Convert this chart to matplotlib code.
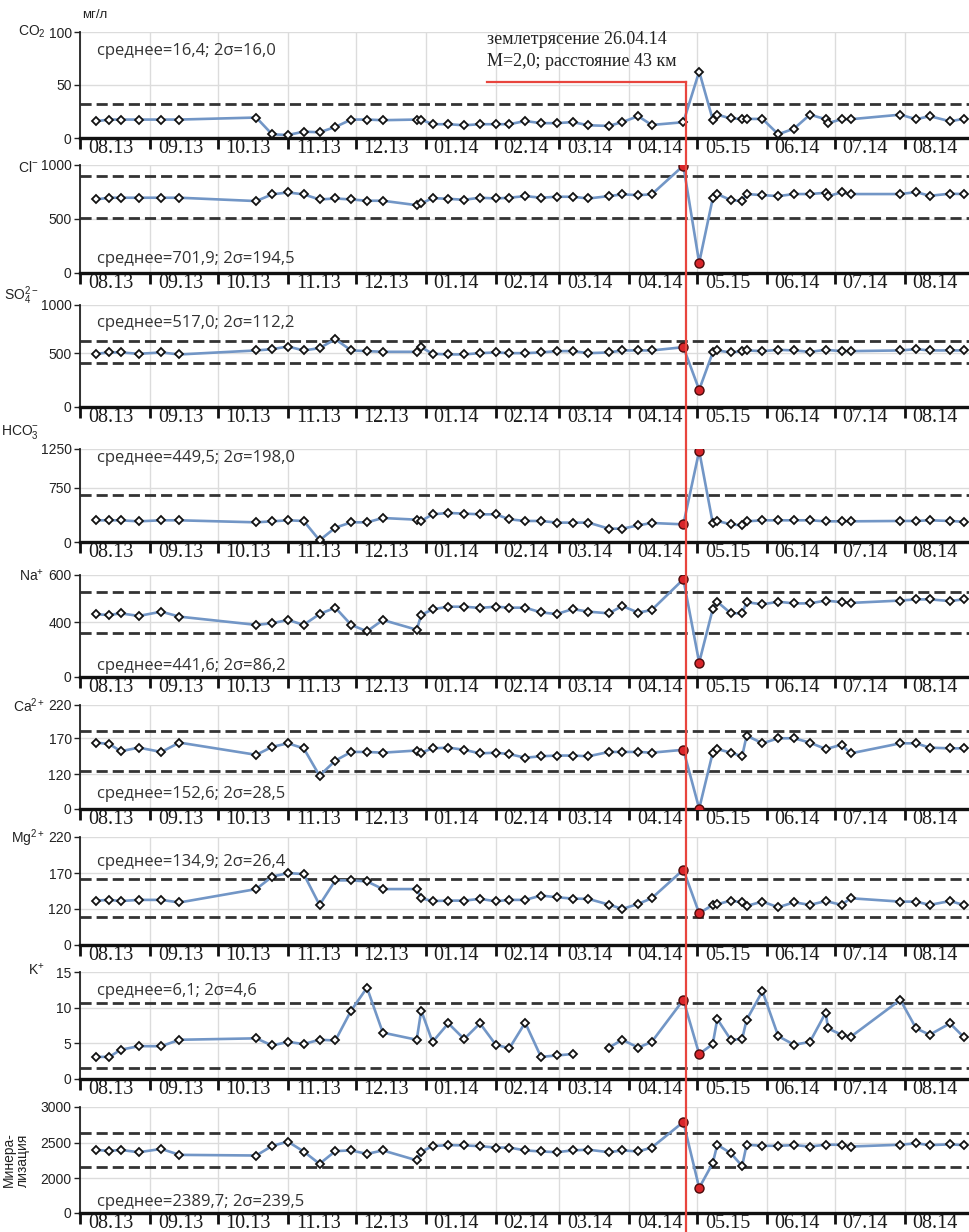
import numpy as np
import matplotlib
matplotlib.use("Agg")
import matplotlib.pyplot as plt
import matplotlib.dates as mdates
from matplotlib.ticker import FixedLocator, FixedFormatter, NullFormatter
from matplotlib.lines import Line2D

plt.rcParams['font.family'] = ['Liberation Sans', 'DejaVu Sans']
plt.rcParams['mathtext.fontset'] = 'custom'
plt.rcParams['mathtext.rm'] = 'Liberation Sans'
plt.rcParams['mathtext.it'] = 'Liberation Sans:italic'
plt.rcParams['mathtext.bf'] = 'Liberation Sans:bold'

nan = np.nan

# sampling dates
dates = np.array(['2013-08-08', '2013-08-14', '2013-08-19', '2013-08-27', '2013-09-06', '2013-09-14',
                  '2013-10-18', '2013-10-25', '2013-11-01', '2013-11-08', '2013-11-15', '2013-11-22',
                  '2013-11-29', '2013-12-06', '2013-12-13', '2013-12-28', '2013-12-30', '2014-01-04',
                  '2014-01-11', '2014-01-18', '2014-01-25', '2014-02-01', '2014-02-07', '2014-02-14',
                  '2014-02-21', '2014-02-28', '2014-03-07', '2014-03-14', '2014-03-23', '2014-03-29',
                  '2014-04-05', '2014-04-11', '2014-04-25', '2014-05-02', '2014-05-08', '2014-05-10',
                  '2014-05-16', '2014-05-21', '2014-05-23', '2014-05-30', '2014-06-06', '2014-06-13',
                  '2014-06-20', '2014-06-27', '2014-06-28', '2014-07-04', '2014-07-08', '2014-07-30',
                  '2014-08-06', '2014-08-12', '2014-08-21', '2014-08-27'], dtype='datetime64[D]')

month_labels = ["08.13", "09.13", "10.13", "11.13", "12.13", "01.14", "02.14",
                "03.14", "04.14", "05.15", "06.14", "07.14", "08.14"]
quake_day = np.datetime64('2014-04-26')
quake_samples = np.array(['2014-04-25', '2014-05-02'], dtype='datetime64[D]')

co2 = [15.8, 17.4, 17.4, 17.4, 17.4, 17.4, 19.3, 3.5, 2.8, 6.0, 5.4, 10.4, 17.4, 17.4, 16.8, 17.4, 17.4,
       13, 13, 12, 13, 13, 13, 16, 14, 14, 15, 12, 11.4, 15, 20.6, 12.3, 14.9, 62.7, 17.4, 22, 18.4,
       18, 18, 18, 3.5, 8.9, 22, 17.7, 14, 17.7, 17.7, 22, 17.7, 20.6, 15.8, 18]
cl = [681, 697, 697, 697, 697, 697, 666, 728, 746, 728, 681, 690, 681, 669, 669, 628, 644, 693, 687,
      678, 697, 690, 697, 712, 697, 706, 706, 690, 712, 728, 721, 728, 994, 96, 690, 731, 675, 666,
      731, 721, 712, 731, 731, 743, 712, 746, 731, 731, 749, 715, 734, 731]
so4 = [494, 507, 507, 494, 507, 488, 528, 541, 569, 528, 552, 645, 528, 521, 514, 514, 562, 494, 488,
       488, 500, 507, 500, 500, 507, 521, 521, 500, 507, 528, 528, 528, 562, 160, 507, 528, 507, 521,
       528, 521, 534, 528, 514, 534, nan, 521, 521, 528, 541, 528, 528, 528]
hco3 = [301, 301, 301, 287, 301, 301, 273, 287, 301, 292, 23, 199, 273, 273, 333, 310, 292, 384, 403,
        394, 384, 384, 315, 292, 292, 269, 269, 269, 185, 185, 231, 264, 245, 1225, 264, 292, 245, 231,
        287, 301, 301, 301, 301, 287, nan, 287, 287, 292, 292, 301, 292, 282]
na = [434, 431, 438, 427, 445, 424, 389, 396, 410, 389, 435, 462, 389, 361, 410, 368, 431, 455, 466,
      466, 461, 466, 462, 462, 442, 435, 456, 445, 438, 469, 441, 452, 582, 138, 456, 487, 438, 438,
      485, 476, 487, 480, 480, 492, nan, 485, 482, 492, 497, 497, 490, 497]
ca = [164, 162, 152, 157, 151, 164, 147, 158, 163, 156, 118, 139, 151, 151, 150, 153, 150, 156, 157,
      154, 149, 150, 148, 143, 145, 146, 146, 145, 151, 151, 151, 150, 154, 2, 150, 155, 150, 145,
      174, 163, 170, 170, 164, 155, nan, 161, 149, 163, 163, 157, 156, 156]
mg = [131.6, 132.6, 131, 132.6, 132.6, 129, 147.7, 165, 170, 168.6, 125.6, 159.8, 159.8, 158.4, 147.7,
      147.7, 134.9, 131, 131.6, 131.6, 134, 130.7, 132.6, 132.6, 138.6, 136.3, 134.4, 134, 126, 120,
      127, 134.9, 174.7, 114, 125.6, 126.5, 131.6, 129, 124.2, 130.2, 122.3, 129.3, 125.6, 131, nan,
      125.6, 134.9, 130.2, 130.2, 125.6, 131, 125.6]
k = [3.1, 3.1, 4.1, 4.6, 4.6, 5.5, 5.7, 4.7, 5.2, 4.9, 5.5, 5.4, 9.6, 12.8, 6.5, 5.5, 9.6, 5.2, 7.8,
     5.6, 7.8, 4.8, 4.3, 7.9, 3.1, 3.3, 3.5, nan, 4.4, 5.5, 4.4, 5.2, 11.1, 3.5, 4.9, 8.4, 5.5, 5.6,
     8.3, 12.3, 6.0, 4.8, 5.2, 9.3, 7.1, 6.2, 5.9, 11.1, 7.1, 6.2, 7.8, 5.9]
mineral = [2397, 2383, 2397, 2364, 2411, 2327, 2318, 2453, 2514, 2374, 2200, 2380, 2390, 2340, 2390,
           2250, 2370, 2450, 2465, 2460, 2450, 2430, 2430, 2390, 2375, 2365, 2390, 2400, 2365, 2390,
           2375, 2430, 2790, 1860, 2210, 2470, 2350, 2170, 2470, 2455, 2455, 2465, 2445, 2470, nan,
           2470, 2445, 2470, 2490, 2465, 2475, 2465]

series = [co2, cl, so4, hco3, na, ca, mg, k, mineral]
names = ['CO$_2$', 'Cl$^{-}$', 'SO$_4^{2-}$', 'HCO$_3^{-}$', 'Na$^{+}$', 'Ca$^{2+}$', 'Mg$^{2+}$', 'K$^{+}$', None]
means = [16.4, 701.9, 517.0, 449.5, 441.6, 152.6, 134.9, 6.1, 2389.7]
two_sig = [16.0, 194.5, 112.2, 198.0, 86.2, 28.5, 26.4, 4.6, 239.5]
yticks = [[0, 50, 100], [0, 500, 1000], [0, 500, 1000], [0, 750, 1250], [0, 400, 600],
          [0, 120, 170, 220], [0, 120, 170, 220], [0, 5, 10, 15], [0, 2000, 2500, 3000]]
mark_quake = [False, True, True, True, True, True, True, True, True]
show_lower = [True, True, True, False, True, True, True, True, True]
keep_gaps = [False, False, False, False, False, False, False, True, False]

# layout (pixels of the 969x1232 figure)
W, H = 969, 1232
panel_px = [(32, 138), (165, 273), (305, 407), (449, 542), (575, 677),
            (705, 809), (837, 945), (972, 1079), (1107, 1213)]
# piecewise axis (broken lower part on some panels)
knots = [([0, 100], [0, 1]),
         ([0, 1000], [0, 1]),
         ([0, 500, 1000], [0, 0.528, 1]),
         ([0, 750, 1250], [0, 0.581, 1]),
         ([0, 300, 400, 600], [0, 0.309, 0.536, 1]),
         ([0, 100, 120, 170, 220], [0, 0.195, 0.334, 0.680, 1]),
         ([0, 100, 120, 170, 220], [0, 0.201, 0.334, 0.666, 1]),
         ([0, 15], [0, 1]),
         ([0, 1700, 2000, 2500, 3000], [0, 0.131, 0.330, 0.664, 1])]
stat_y = [51, 259, 323, 458, 666, 794, 862, 991, 1202]
name_off = [(-34, 0), (-42, -2), (-42, 9), (-41, 17), (-36, -1), (-35, -1), (-35, -1), (-35, 2), None]


def make_funcs(kv, kf):
    kv = np.asarray(kv, float)
    kf = np.asarray(kf, float)
    s_lo = (kf[1] - kf[0]) / (kv[1] - kv[0])
    s_hi = (kf[-1] - kf[-2]) / (kv[-1] - kv[-2])

    def fwd(v):
        v = np.asarray(v, float)
        out = np.interp(v, kv, kf)
        out = np.where(v > kv[-1], kf[-1] + (v - kv[-1]) * s_hi, out)
        out = np.where(v < kv[0], kf[0] + (v - kv[0]) * s_lo, out)
        return out

    def inv(f):
        f = np.asarray(f, float)
        out = np.interp(f, kf, kv)
        out = np.where(f > kf[-1], kv[-1] + (f - kf[-1]) / s_hi, out)
        out = np.where(f < kf[0], kv[0] + (f - kf[0]) / s_lo, out)
        return out
    return fwd, inv


x = mdates.date2num(dates)
months = np.arange(np.datetime64('2013-08'), np.datetime64('2014-10'), dtype='datetime64[M]').astype('datetime64[D]')
month_num = mdates.date2num(months)
mid_num = month_num[:-1] + 13.5
xmin = mdates.date2num(np.datetime64('2013-08-01'))
xmax = xmin + 393.4
qmask = np.isin(dates, quake_samples)

fig = plt.figure(figsize=(W / 100, H / 100), dpi=100)
axes = []
for i in range(9):
    top, bot = panel_px[i]
    ax = fig.add_axes([80 / W, 1 - bot / H, 1 - 80 / W, (bot - top) / H])
    axes.append(ax)
    fwd, inv = make_funcs(*knots[i])
    ax.set_yscale('function', functions=(fwd, inv))
    ax.set_ylim(yticks[i][0], yticks[i][-1])
    ax.set_xlim(xmin, xmax)

    ax.set_yticks(yticks[i])
    ax.yaxis.set_minor_locator(FixedLocator([]))
    ax.tick_params(axis='y', which='major', length=4, width=1, pad=2, labelsize=10, colors='#222')
    ax.xaxis.set_major_locator(FixedLocator(month_num))
    ax.xaxis.set_major_formatter(NullFormatter())
    ax.xaxis.set_minor_locator(FixedLocator(mid_num))
    ax.xaxis.set_minor_formatter(FixedFormatter(month_labels))
    ax.tick_params(axis='x', which='major', length=8, width=2, direction='out', color='#111')
    ax.tick_params(axis='x', which='minor', length=0, pad=1, labelsize=14.5,
                   labelfontfamily='Liberation Serif', labelcolor='#1a1a1a')
    ax.grid(True, which='major', color='#dcdcdc', lw=1, zorder=0)
    ax.set_axisbelow(True)
    for s in ('top', 'right'):
        ax.spines[s].set_visible(False)
    ax.spines['left'].set_linewidth(1.3)
    ax.spines['left'].set_color('#222')
    ax.spines['bottom'].set_linewidth(2.4)
    ax.spines['bottom'].set_color('#111')

    m, s2 = means[i], two_sig[i]
    ax.axhline(m + s2, color='#333', lw=2, dashes=(4, 1.8), zorder=1)
    if show_lower[i]:
        ax.axhline(m - s2, color='#333', lw=2, dashes=(4, 1.8), zorder=1)

    y = np.array(series[i], float)
    ok = ~np.isnan(y)
    if keep_gaps[i]:
        ax.plot(x, y, color='#7296c6', lw=1.9, zorder=2)
    else:
        ax.plot(x[ok], y[ok], color='#7296c6', lw=1.9, zorder=2)
    red = qmask & ok if mark_quake[i] else np.zeros_like(ok)
    white = ok & ~red
    ax.plot(x[white], y[white], ls='none', marker='D', ms=4.3, mfc='white', mec='#111', mew=1.3, zorder=3)
    if red.any():
        ax.plot(x[red], y[red], ls='none', marker='o', ms=6.5, mfc='#d8262b', mec='#4a0a0a', mew=1, zorder=4)

    txt = "среднее=%s; 2σ=%s" % (("%.1f" % m).replace('.', ','), ("%.1f" % s2).replace('.', ','))
    fig.text(97 / W, 1 - stat_y[i] / H, txt, fontsize=12, family=['Open Sans', 'DejaVu Sans'],
             color='#333', va='center', ha='left')

    if names[i] is not None:
        dx, dy = name_off[i]
        ax.annotate(names[i], xy=(0, 1), xycoords='axes fraction', xytext=(dx, dy),
                    textcoords='offset pixels', ha='right', va='center', fontsize=10, color='#222')

axes[0].annotate('мг/л', xy=(0, 1), xycoords='axes fraction', xytext=(2, 17),
                 textcoords='offset pixels', ha='left', va='center', fontsize=9.5, color='#222')
fig.text(16 / W, 1 - 1160 / H, 'Минера-\nлизация', rotation=90, ha='center', va='center',
         fontsize=10, color='#222', linespacing=1.0)

# earthquake marker
xq_px = axes[0].transData.transform((mdates.date2num(quake_day), 0))[0]
xq = xq_px / fig.bbox.width
fig.text(487 / W, 1 - 40 / H, 'землетрясение 26.04.14', family='Liberation Serif', fontsize=13,
         color='#222', va='center', ha='left')
fig.text(487 / W, 1 - 62 / H, 'M=2,0; расстояние 43 км', family='Liberation Serif', fontsize=13,
         color='#222', va='center', ha='left')
yq = 1 - 82 / H
fig.add_artist(Line2D([487 / W, xq], [yq, yq], transform=fig.transFigure, color='#e8453e', lw=1.6))
fig.add_artist(Line2D([xq, xq], [yq, 0], transform=fig.transFigure, color='#e8453e', lw=1.6))

fig.savefig('out.png', dpi=100, facecolor='white')
